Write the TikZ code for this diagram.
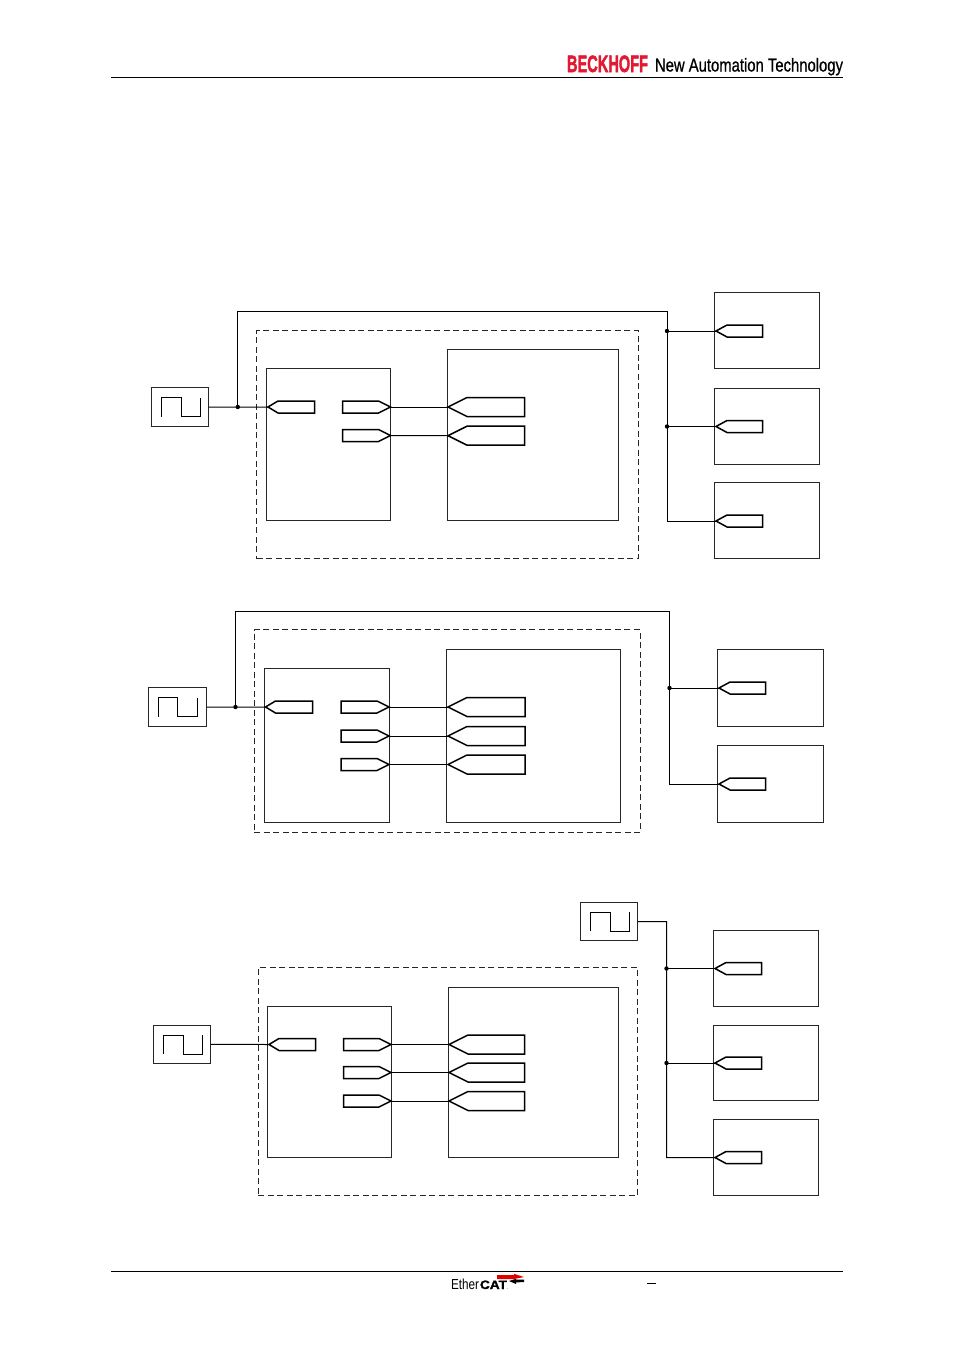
\documentclass[tikz,border=0pt]{standalone}
\usepackage{fontspec}
\setmainfont{Liberation Sans}
\newfontfamily\heavyfont[FakeBold=2.2]{Liberation Sans Bold}
\newfontfamily\midfont[FakeBold=0.9]{Liberation Sans}
\newfontfamily\catfont[FakeBold=1.5]{Liberation Sans Bold}
\newcommand{\bx}[6]{\node[#1,minimum width={(#5-#3)*1pt},minimum height={(#6-#4)*1pt}] (#2) at ({(#3+#5)/2-0.25},{(#4+#6)/2-0.2}) {};}
% port pointing left: name, tip x, y, end x, bevel, height
\newcommand{\portL}[6]{\coordinate (#1) at (#2,#3);
 \draw[port] (#1) -- ++(#5,-#6/2) -- (#4,#3-#6/2) -- (#4,#3+#6/2) -- (#2+#5,#3+#6/2) -- cycle;}
% port pointing right: name, tip x, y, start x, bevel, height
\newcommand{\portR}[6]{\coordinate (#1) at (#2,#3);
 \draw[port] (#1) -- ++(-#5,-#6/2) -- (#4,#3-#6/2) -- (#4,#3+#6/2) -- (#2-#5,#3+#6/2) -- cycle;}
% clock generator: name, x1, y1, x2, y2
\newcommand{\clk}[5]{\bx{box}{#1}{#2}{#3}{#4}{#5}
 \draw[wire] (#2+9.8,{(#3+#5)/2+9.5}) -- ++(0,-19) -- ++(19.5,0) -- ++(0,19) -- ++(19.5,0) -- ++(0,-19);}
\tikzset{
 x=1pt,y=-1pt,
 box/.style={draw=black!85,line width=0.9pt,inner sep=0pt,outer sep=0pt},
 dashbox/.style={draw=black!85,line width=0.9pt,dash pattern=on 6pt off 3.5pt,inner sep=0pt,outer sep=0pt},
 wire/.style={draw=black,line width=1pt},
 port/.style={draw=black,line width=1.5pt,line join=miter,fill=white},
 dot/.style={circle,fill=black,inner sep=0pt,minimum size=4.4pt},
 rulel/.style={draw=black,line width=1pt},
 txt/.style={inner sep=0pt,outer sep=0pt}
}
\begin{document}
\begin{tikzpicture}
\useasboundingbox[fill=white] (0,0) rectangle (954,1350);
% header and footer
\coordinate (hl) at (111,77.5); \coordinate (hr) at (843,77.5);
\draw[rulel] (hl) -- (hr);
\coordinate (fl) at (111,1271.5); \coordinate (fr) at (843,1271.5);
\draw[rulel] (fl) -- (fr);
\definecolor{beckred}{RGB}{225,25,50}
\node[txt,anchor=base west,text=beckred] (brand) at (567,72) {\resizebox{81pt}{16.5pt}{\heavyfont BECKHOFF}};
\node[txt,anchor=base west] (slogan) at (655,71.5) {\resizebox{188pt}{13.5pt}{\midfont New Automation Technology}};
\node[txt,anchor=base west] (eth) at (451,1289) {\resizebox{28pt}{10.5pt}{Ether}};
\node[txt,anchor=base west] (cat) at (480,1289) {\resizebox{27pt}{8.5pt}{\catfont CAT}};
\node[txt,anchor=base west] (dotmark) at (506.5,1289) {\fontsize{5}{5}\selectfont .};
\fill[red!90!black] (497,1275) -- (514,1275) -- (514,1273.8) -- (524,1277) -- (514,1279) -- (497,1279) -- cycle;
\fill[black] (524,1279.5) -- (516,1279.5) -- (516,1278.8) -- (509,1281) -- (516,1284) -- (516,1282.4) -- (524,1282) -- cycle;
\node[txt] (minus) at (651.5,1283.5) {\rule{9pt}{0.9pt}};

% ---- diagram 1
\bx{box}{ex1a}{715}{293}{820}{369}
\bx{box}{ex1b}{715}{388.5}{820}{464.5}
\bx{box}{ex1c}{715}{483}{820}{559}
\bx{dashbox}{gr1}{257}{331}{638.5}{559}
\bx{box}{a1}{267}{369}{391}{521}
\bx{box}{b1}{447.5}{350}{619}{521}
\clk{clk1}{152}{388}{209}{426.5}
\node[dot] (j1) at (237.8,407) {};
\node[dot] (j1a) at (667,331) {};
\node[dot] (j1b) at (667,426.5) {};
\coordinate (t1a) at (237.8,311.6); \coordinate (t1b) at (667.4,311.6);
\portL{i1}{268}{407}{314.5}{10}{12}
\portR{o1a}{390.5}{407}{342.5}{12}{12}
\portR{o1b}{390.5}{435.5}{342.5}{12}{12}
\portL{d1a}{448}{407}{524.5}{19}{19}
\portL{d1b}{448}{435.7}{524.5}{19}{19}
\portL{e1a}{716}{331}{762.5}{11}{12}
\portL{e1b}{716}{426.5}{762.5}{11}{12}
\portL{e1c}{716}{521}{762.5}{11}{12}
\draw[wire] (clk1.east) -- (i1);
\draw[wire] (j1.center) -- (t1a) -- (t1b) |- (e1c);
\draw[wire] (j1a.center) -- (e1a);
\draw[wire] (j1b.center) -- (e1b);
\draw[wire] (o1a) -- (d1a);
\draw[wire] (o1b) -- (d1b);

% ---- diagram 2
\bx{box}{ex2a}{717.5}{649.5}{824}{726.5}
\bx{box}{ex2b}{717.5}{746}{824}{822.5}
\bx{dashbox}{gr2}{254.5}{630}{640.5}{832.5}
\bx{box}{a2}{264.5}{668.5}{390}{822.5}
\bx{box}{b2}{447}{649.5}{620.5}{822.5}
\clk{clk2}{148.5}{688}{207}{726.5}
\node[dot] (j2) at (235.5,707) {};
\node[dot] (j2a) at (669.5,688) {};
\coordinate (t2a) at (235.5,611); \coordinate (t2b) at (669.5,611);
\portL{i2}{265.5}{707}{312.5}{10}{12}
\portR{o2a}{389}{707}{341}{12}{12}
\portR{o2b}{389}{736}{341}{12}{12}
\portR{o2c}{389}{764.5}{341}{12}{12}
\portL{d2a}{448}{707}{525}{19}{19}
\portL{d2b}{448}{736}{525}{19}{19}
\portL{d2c}{448}{764.5}{525}{19}{19}
\portL{e2a}{719}{688}{765.5}{11}{12}
\portL{e2b}{719}{784}{765.5}{11}{12}
\draw[wire] (clk2.east) -- (i2);
\draw[wire] (j2.center) -- (t2a) -- (t2b) |- (e2b);
\draw[wire] (j2a.center) -- (e2a);
\draw[wire] (o2a) -- (d2a);
\draw[wire] (o2b) -- (d2b);
\draw[wire] (o2c) -- (d2c);

% ---- diagram 3
\bx{box}{ex3a}{714}{931}{818.5}{1006.5}
\bx{box}{ex3b}{714}{1025.5}{818.5}{1101}
\bx{box}{ex3c}{714}{1120}{818.5}{1195.5}
\bx{dashbox}{gr3}{258.5}{968}{638}{1195.5}
\bx{box}{a3}{267.5}{1006.5}{391.5}{1158}
\bx{box}{b3}{448.5}{988}{619}{1158}
\clk{clk3}{154}{1025.5}{211}{1063.5}
\clk{clk4}{581}{903}{638}{940.5}
\node[dot] (j3a) at (666.5,968.5) {};
\node[dot] (j3b) at (666.5,1063) {};
\coordinate (t3) at (666.5,921.5);
\portL{i3}{269}{1044.5}{315.5}{10}{12}
\portR{o3a}{391}{1044.5}{343.5}{12}{12}
\portR{o3b}{391}{1072.5}{343.5}{12}{12}
\portR{o3c}{391}{1101}{343.5}{12}{12}
\portL{d3a}{449}{1044.5}{524.5}{19}{19}
\portL{d3b}{449}{1072.5}{524.5}{19}{19}
\portL{d3c}{449}{1101}{524.5}{19}{19}
\portL{e3a}{715}{968.5}{761.5}{11}{12}
\portL{e3b}{715}{1063}{761.5}{11}{12}
\portL{e3c}{715}{1157.5}{761.5}{11}{12}
\draw[wire] (clk3.east) -- (i3);
\draw[wire] (clk4.east) -- (t3) |- (e3c);
\draw[wire] (j3a.center) -- (e3a);
\draw[wire] (j3b.center) -- (e3b);
\draw[wire] (o3a) -- (d3a);
\draw[wire] (o3b) -- (d3b);
\draw[wire] (o3c) -- (d3c);
\end{tikzpicture}
\end{document}
